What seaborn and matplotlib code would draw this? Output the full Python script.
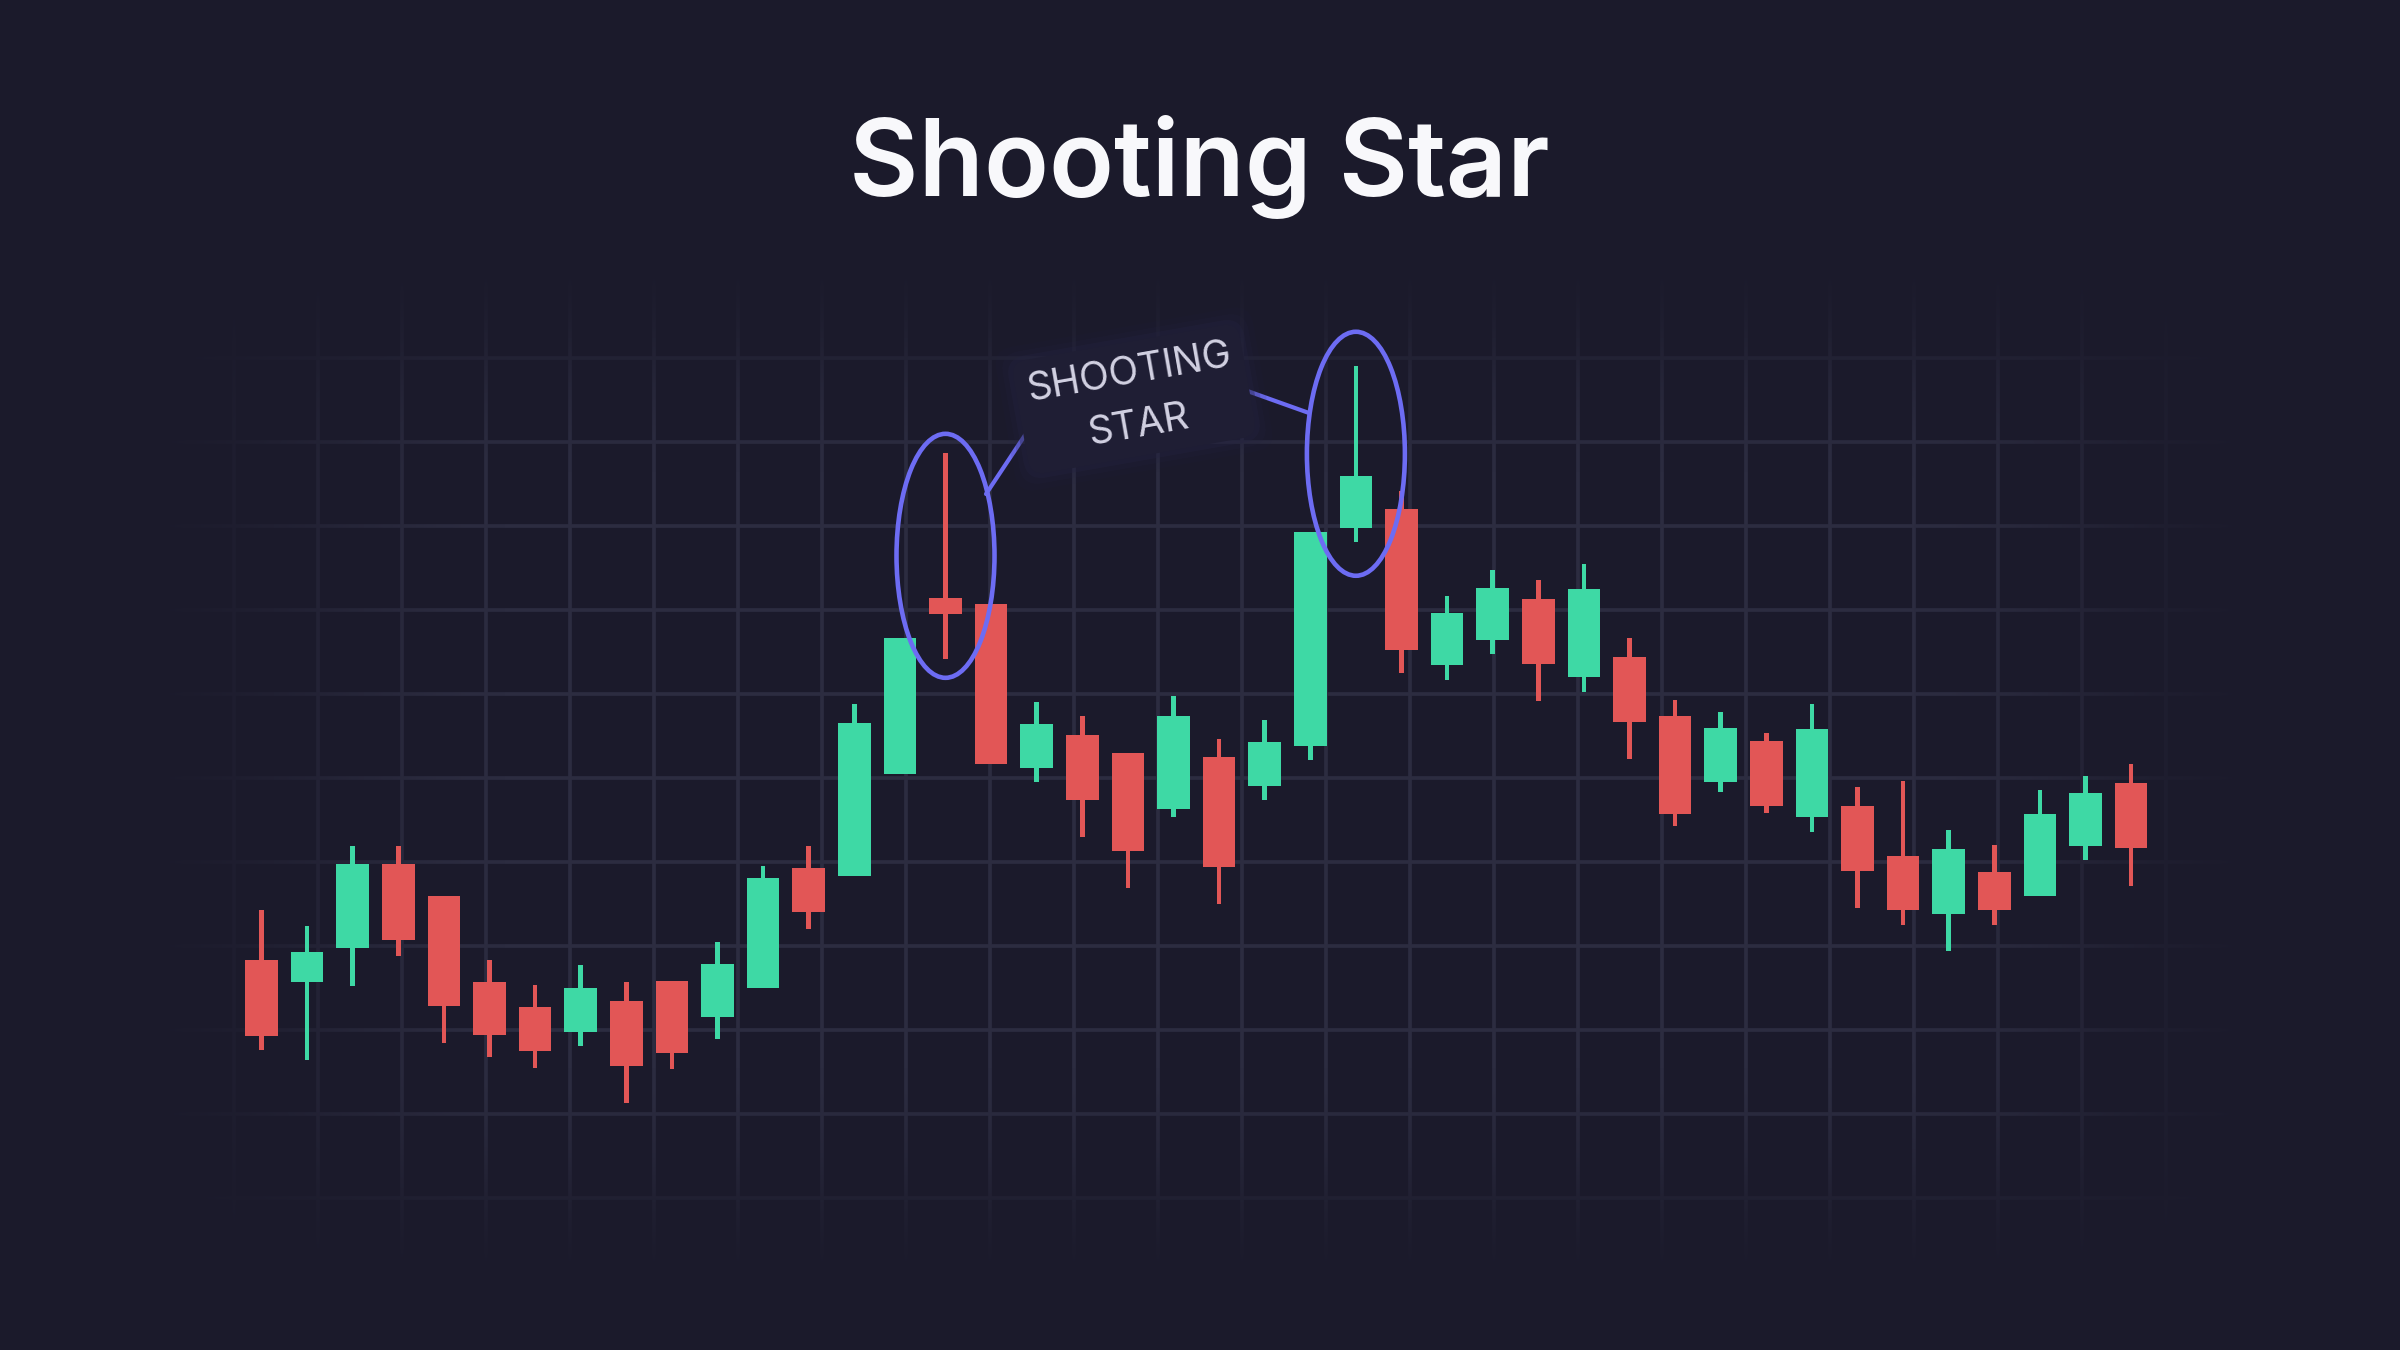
import numpy as np
import matplotlib
matplotlib.use("Agg")
import matplotlib.pyplot as plt
from matplotlib.patches import Ellipse
from matplotlib.colors import to_rgb
import seaborn as sns
import pandas as pd

# ---------------- data (OHLC) ----------------
opens = [108.3, 105.7, 109.8, 119.8, 116.0, 105.7, 102.7, 99.8, 103.5, 105.8,
         101.6, 105.0, 119.3, 118.3, 130.5, 151.4, 150.7, 131.2, 135.1, 133.0,
         126.3, 132.5, 129.1, 133.8, 159.8, 162.0, 143.5, 146.4, 151.3, 142.0,
         144.4, 137.4, 129.5, 134.4, 125.4, 126.7, 120.7, 113.8, 118.8, 116.0,
         121.9, 129.4]
highs = [114.3, 112.4, 121.9, 121.9, 116.0, 108.3, 105.4, 107.7, 105.7, 105.8,
         110.5, 119.5, 121.9, 138.8, 146.7, 168.7, 150.7, 139.1, 137.4, 133.0,
         139.8, 134.6, 136.9, 159.3, 179.1, 164.2, 151.7, 154.8, 153.6, 155.5,
         146.7, 139.3, 137.9, 135.4, 138.8, 128.9, 129.6, 123.8, 122.0, 128.6,
         130.2, 131.7]
lows = [97.6, 96.4, 105.2, 108.8, 98.5, 96.8, 95.5, 98.1, 91.3, 95.4,
        98.9, 105.0, 112.0, 118.3, 130.5, 144.2, 131.7, 129.5, 123.0, 116.9,
        125.4, 115.0, 127.4, 132.1, 158.1, 142.5, 141.7, 144.8, 139.2, 140.2,
        132.3, 124.3, 128.3, 125.8, 123.6, 114.5, 112.5, 109.4, 112.5, 116.0,
        120.2, 117.1]
closes = [99.3, 109.3, 119.8, 110.7, 102.9, 99.4, 97.5, 105.0, 95.7, 97.3,
          107.9, 118.1, 114.1, 136.6, 146.7, 149.5, 131.7, 136.4, 127.4, 121.3,
          137.4, 119.4, 134.3, 159.3, 166.0, 145.2, 149.6, 152.6, 143.6, 152.5,
          136.7, 125.7, 136.0, 126.7, 135.8, 118.9, 114.3, 121.6, 114.3, 125.7,
          128.2, 121.7]
star_index = [15, 24]
title_text = "Shooting Star"
label_text = "SHOOTING\nSTAR"

df = pd.DataFrame({"open": opens, "high": highs, "low": lows, "close": closes})
df["idx"] = np.arange(len(df))
df["up"] = df["close"] >= df["open"]

# ---------------- style ----------------
BG = "#1b1a2b"
GRID = "#2c2c40"
GREEN = "#3ed9a5"
RED = "#e25656"
ACCENT = "#6d6cf3"
TEXT = "#f8f8fb"
LABEL = "#d2d1e2"

sns.set_theme(style="dark", rc={"figure.facecolor": BG, "axes.facecolor": BG})
plt.rcParams["font.family"] = ["Inter", "DejaVu Sans"]

W, H = 2400, 1350
fig = plt.figure(figsize=(24, 13.5), dpi=100, facecolor=BG)

# ---------------- background grid (pixel coordinates) ----------------
bg = fig.add_axes([0, 0, 1, 1], zorder=0)
bg.set_facecolor(BG)
grid_x = np.arange(150, 2260, 84)
grid_y = np.arange(274, 1300, 84)
for gx in grid_x:
    bg.axvline(gx, color=GRID, lw=2.7, zorder=1)
for gy in grid_y:
    bg.axhline(gy, color=GRID, lw=2.7, zorder=1)


def smooth(v, a, b):
    t = np.clip((v - a) / (b - a), 0, 1)
    return t * t * (3 - 2 * t)


xs = np.arange(W) + 0.5
ys = np.arange(H) + 0.5
fx = smooth(xs, 120, 520) * (1 - smooth(xs, 1900, 2280))
fy = smooth(ys, 250, 480) * (1 - smooth(ys, 1060, 1290))
vis = fy[:, None] * fx[None, :]
overlay = np.zeros((H, W, 4))
overlay[..., :3] = to_rgb(BG)
overlay[..., 3] = 1 - vis
bg.imshow(overlay, extent=(0, W, H, 0), zorder=2, aspect="auto", interpolation="bilinear")
bg.set_xlim(0, W)
bg.set_ylim(H, 0)
bg.axis("off")

# ---------------- candles ----------------
X0, DX = 261.5, 45.6          # pixel position of first candle, spacing
P0, Y0, PPX = 100.0, 1030.0, 8.4  # price 100 at pixel row 1030, 8.4 px per unit
ax = fig.add_axes([0, 0, 1, 1], zorder=1)
ax.patch.set_alpha(0)
ax.set_xlim((0 - X0) / DX, (W - X0) / DX)
ax.set_ylim(P0 + (Y0 - H) / PPX, P0 + Y0 / PPX)
ax.axis("off")

colors = np.where(df["up"], GREEN, RED)
body_low = df[["open", "close"]].min(axis=1)
body_h = (df["open"] - df["close"]).abs()
ax.bar(df["idx"], df["high"] - df["low"], bottom=df["low"], width=4.6 / DX,
       color=colors, linewidth=0, zorder=2)
ax.bar(df["idx"], body_h, bottom=body_low, width=32.5 / DX,
       color=colors, linewidth=0, zorder=3)

for si in star_index:
    mid = (df.loc[si, "high"] + df.loc[si, "low"]) / 2
    ax.add_patch(Ellipse((si, mid), width=98 / DX, height=244 / PPX, fill=False,
                         ec=ACCENT, lw=3.3, zorder=6))

# ---------------- annotation label (pixel coordinates) ----------------
ov = fig.add_axes([0, 0, 1, 1], zorder=2)
ov.patch.set_alpha(0)
ov.set_xlim(0, W)
ov.set_ylim(H, 0)
ov.axis("off")

ov.plot([986, 1045], [494, 405], color=ACCENT, lw=3.0, solid_capstyle="round", zorder=3)
ov.plot([1309, 1225], [413, 383], color=ACCENT, lw=3.0, solid_capstyle="round", zorder=3)

fig.canvas.draw()
renderer = fig.canvas.get_renderer()

# measure label size: "SHOOTING" should be ~205 px wide
probe = fig.text(0, 0, "SHOOTING", fontsize=24, family=["Inter", "DejaVu Sans"])
wpx = probe.get_window_extent(renderer).width
label_fs = 24 * 207 / wpx
probe.remove()

lx, ly = 1134, 399
rot = 10
for pad, alpha in [(0.7, 0.10), (0.55, 0.18), (0.42, 0.35)]:
    ov.text(lx, ly, label_text, fontsize=label_fs, color=(0, 0, 0, 0), rotation=rot,
            rotation_mode="anchor", ha="center", va="center", multialignment="center",
            linespacing=1.6, zorder=4,
            bbox=dict(boxstyle="round,pad=%.2f,rounding_size=0.5" % pad,
                      fc="#24233f", ec="none", alpha=alpha))
ov.text(lx, ly, label_text, fontsize=label_fs, color=LABEL, rotation=rot,
        rotation_mode="anchor", ha="center", va="center", multialignment="center",
        linespacing=1.6, zorder=5,
        bbox=dict(boxstyle="round,pad=0.3,rounding_size=0.4", fc="#1f1e34", ec="none"))

# ---------------- title ----------------
title = fig.text(0.4998, 1 - 196 / H, title_text, fontsize=80, fontweight="semibold",
                 color=TEXT, ha="center", va="baseline")
fig.canvas.draw()
tw = title.get_window_extent(renderer).width
title.set_fontsize(80 * 701 / tw)

fig.savefig("out.png", dpi=100, facecolor=BG)
